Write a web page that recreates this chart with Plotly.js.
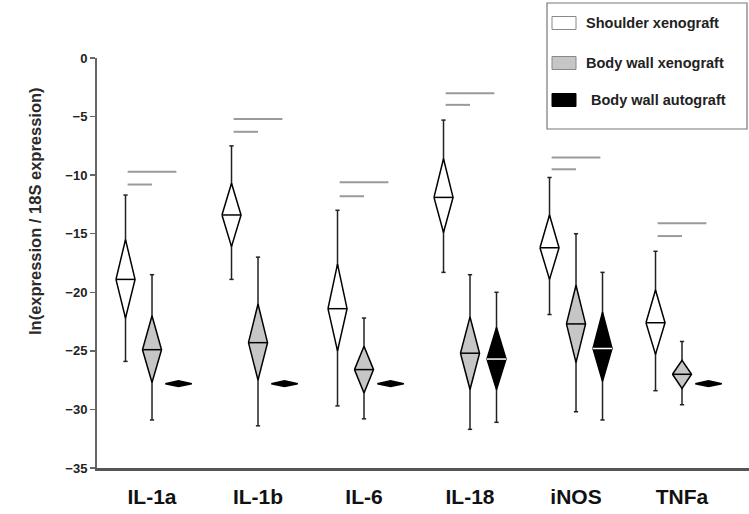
<!DOCTYPE html>
<html>
<head>
<meta charset="utf-8">
<script src="https://cdn.plot.ly/plotly-3.0.1.min.js"></script>
<style>html,body{margin:0;padding:0;background:#fff;}#chart{width:749px;height:514px;}</style>
</head>
<body>
<div id="chart"></div>
<script>
// ---- data ----
var categories = ['IL-1a', 'IL-1b', 'IL-6', 'IL-18', 'iNOS', 'TNFa'];
var seriesNames = ['Shoulder xenograft', 'Body wall xenograft', 'Body wall autograft'];

var shoulderMean = [-18.9, -13.4, -21.4, -11.9, -16.2, -22.6];
var shoulderHigh = [-15.5, -10.7, -17.6, -8.6, -13.4, -19.8];
var shoulderLow  = [-22.2, -16.1, -25.0, -14.9, -18.9, -25.3];
var shoulderMax  = [-11.7, -7.5, -13.0, -5.3, -10.2, -16.5];
var shoulderMin  = [-25.9, -18.9, -29.7, -18.3, -21.9, -28.4];

var bodyXenoMean = [-24.9, -24.3, -26.6, -25.2, -22.7, -27.0];
var bodyXenoHigh = [-22.0, -21.0, -24.6, -22.1, -19.4, -25.8];
var bodyXenoLow  = [-27.7, -27.5, -28.6, -28.3, -26.0, -28.2];
var bodyXenoMax  = [-18.5, -17.0, -22.2, -18.5, -15.0, -24.2];
var bodyXenoMin  = [-30.9, -31.4, -30.8, -31.7, -30.2, -29.6];

var bodyAutoMean = [-27.8, -27.8, -27.8, -25.7, -24.8, -27.8];
var bodyAutoHigh = [-27.55, -27.55, -27.55, -23.0, -21.7, -27.55];
var bodyAutoLow  = [-28.05, -28.05, -28.05, -28.3, -27.6, -28.05];
var bodyAutoMax  = [null, null, null, -20.0, -18.3, null];
var bodyAutoMin  = [null, null, null, -31.1, -30.9, null];

// significance bars: shoulder vs body wall xenograft (short), shoulder vs autograft (long)
var sigShortY = [-10.8, -6.3, -11.8, -4.0, -9.5, -15.2];
var sigLongY  = [-9.7, -5.2, -10.6, -3.0, -8.5, -14.1];

// ---- drawing ----
var offsets = [-0.25, 0, 0.25];
var fills = ['#ffffff', '#c6c6c6', '#000000'];
var meanColors = ['#000000', '#000000', '#ffffff'];
var series = [
  {mean: shoulderMean, hi: shoulderHigh, lo: shoulderLow, max: shoulderMax, min: shoulderMin},
  {mean: bodyXenoMean, hi: bodyXenoHigh, lo: bodyXenoLow, max: bodyXenoMax, min: bodyXenoMin},
  {mean: bodyAutoMean, hi: bodyAutoHigh, lo: bodyAutoLow, max: bodyAutoMax, min: bodyAutoMin}
];

var traces = [];

// significance bars
var sx = [], sy = [];
categories.forEach(function (c, i) {
  sx.push(i - 0.23, i, null); sy.push(sigShortY[i], sigShortY[i], null);
  sx.push(i - 0.23, i + 0.23, null); sy.push(sigLongY[i], sigLongY[i], null);
});
traces.push({x: sx, y: sy, mode: 'lines', type: 'scatter', line: {color: '#9a9a9a', width: 2},
  showlegend: false, hoverinfo: 'skip'});

series.forEach(function (s, k) {
  var wx = [], wy = [], dx = [], dy = [], mx = [], my = [];
  categories.forEach(function (c, i) {
    var xc = i + offsets[k];
    var hasWhisker = s.max[i] !== null;
    var hw = hasWhisker ? 0.09 : 0.125;
    if (hasWhisker) {
      wx.push(xc, xc, null); wy.push(s.max[i], s.min[i], null);
      wx.push(xc - 0.02, xc + 0.02, null); wy.push(s.max[i], s.max[i], null);
      wx.push(xc - 0.02, xc + 0.02, null); wy.push(s.min[i], s.min[i], null);
    }
    dx.push(xc - hw, xc, xc + hw, xc, xc - hw, null);
    dy.push(s.mean[i], s.hi[i], s.mean[i], s.lo[i], s.mean[i], null);
    if (hasWhisker) {
      mx.push(xc - hw, xc + hw, null); my.push(s.mean[i], s.mean[i], null);
    }
  });
  traces.push({x: wx, y: wy, mode: 'lines', type: 'scatter', line: {color: '#222', width: 1.5},
    showlegend: false, hoverinfo: 'skip'});
  traces.push({x: dx, y: dy, mode: 'lines', type: 'scatter', fill: 'toself', fillcolor: fills[k],
    line: {color: '#000', width: 1.5}, name: seriesNames[k], showlegend: false});
  traces.push({x: mx, y: my, mode: 'lines', type: 'scatter', line: {color: meanColors[k], width: 1.5},
    showlegend: false, hoverinfo: 'skip'});
});

// legend (drawn manually), pixel helper
var L = 97, T = 58, W = 652, H = 410;
function px(x) { return (x - L) / W; }
function py(y) { return (T + H - y) / H; }

var shapes = [
  {type: 'rect', xref: 'paper', yref: 'paper', x0: px(547), x1: px(747), y0: py(3), y1: py(129),
    line: {color: '#777', width: 1.2}, fillcolor: '#fff', layer: 'above'}
];
var itemY = [23, 63, 100];
var annotations = [];
seriesNames.forEach(function (n, k) {
  shapes.push({type: 'rect', xref: 'paper', yref: 'paper', x0: px(552), x1: px(576),
    y0: py(itemY[k] + 6.5), y1: py(itemY[k] - 6.5),
    line: {color: k === 2 ? '#000' : '#888', width: 1}, fillcolor: fills[k], layer: 'above'});
  annotations.push({xref: 'paper', yref: 'paper', x: px(k === 2 ? 589 : 584), y: py(itemY[k]),
    xanchor: 'left', yanchor: 'middle', showarrow: false, text: n,
    font: {family: 'Liberation Sans, Arial, sans-serif', size: 14.5, color: '#222', weight: 'bold'}});
});
annotations.push({xref: 'paper', yref: 'paper', x: px(35), y: py(211), textangle: -90,
  xanchor: 'center', yanchor: 'middle', showarrow: false, text: 'ln(expression / 18S expression)',
  font: {family: 'Liberation Sans, Arial, sans-serif', size: 16.5, color: '#2a2a2a', weight: 'bold'}});

var layout = {
  width: 749, height: 514,
  margin: {l: L, r: 749 - L - W, t: T, b: 514 - T - H},
  paper_bgcolor: '#fff', plot_bgcolor: '#fff',
  showlegend: false,
  xaxis: {
    range: [-0.519, 5.632], tickvals: [0, 1, 2, 3, 4, 5], ticktext: categories,
    showline: true, linecolor: '#555', linewidth: 3, showgrid: false, zeroline: false,
    ticks: 'outside', ticklen: 8, tickcolor: 'rgba(0,0,0,0)',
    tickfont: {family: 'Liberation Sans, Arial, sans-serif', size: 21, color: '#111', weight: 'bold'},
    fixedrange: true
  },
  yaxis: {
    range: [-35, 0], dtick: 5, showline: true, linecolor: '#666', linewidth: 2,
    showgrid: false, zeroline: false, ticks: 'outside', ticklen: 5, tickwidth: 1.5, tickcolor: '#666',
    tickfont: {family: 'Liberation Sans, Arial, sans-serif', size: 13, color: '#222', weight: 'bold'},
    fixedrange: true
  },
  shapes: shapes,
  annotations: annotations
};

Plotly.newPlot('chart', traces, layout, {displayModeBar: false, staticPlot: true});
</script>
</body>
</html>
